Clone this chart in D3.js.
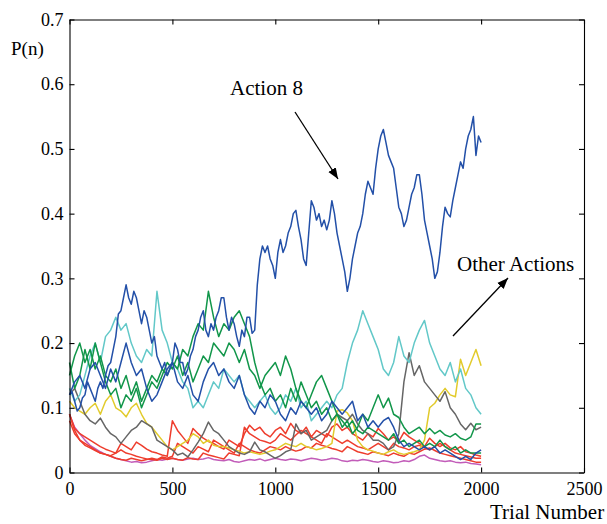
<!DOCTYPE html>
<html>
<head>
<meta charset="utf-8">
<script src="https://cdn.jsdelivr.net/npm/d3@7"></script>
<style>
  html, body { margin: 0; padding: 0; background: #fff; }
  svg { display: block; }
  text { font-family: "Liberation Serif", "Times New Roman", serif; fill: #000; }
</style>
</head>
<body>
<div id="chart"></div>
<script>
// --- Data ---
// other actions: one value every 25 trials
const trials = d3.range(0, 2001, 25);
// action 8 is the one you look at, so it gets a value every 12.5 trials
const action8Trials = d3.range(0, 2001, 12.5);

const action8 = [
  .12,.125,.11,.095,.10,.115,.12,.14,
  .13,.12,.11,.13,.14,.13,.15,.165,
  .17,.19,.21,.245,.25,.27,.29,.27,
  .26,.28,.27,.25,.23,.25,.24,.22,
  .20,.21,.18,.17,.16,.17,.15,.16,
  .17,.20,.19,.17,.17,.15,.16,.18,
  .19,.21,.22,.24,.25,.22,.21,.23,
  .22,.24,.25,.27,.27,.24,.22,.24,
  .23,.21,.195,.22,.21,.24,.24,.215,
  .22,.29,.33,.35,.34,.35,.33,.32,
  .30,.34,.36,.34,.35,.37,.38,.40,
  .405,.38,.36,.33,.32,.37,.42,.41,
  .39,.40,.38,.39,.375,.39,.42,.40,
  .37,.35,.33,.31,.28,.30,.33,.35,
  .37,.38,.40,.43,.45,.44,.43,.47,
  .50,.52,.53,.51,.49,.48,.47,.44,
  .41,.40,.38,.39,.41,.43,.44,.46,
  .46,.43,.39,.37,.35,.33,.30,.31,
  .34,.38,.41,.40,.395,.42,.44,.46,
  .48,.47,.50,.52,.53,.55,.49,.52,
  .51
];
const blue2 = [
  .12,.14,.15,.13,.16,.17,.15,.13,.16,.14,
  .17,.20,.17,.15,.16,.13,.11,.12,.14,.16,
  .17,.14,.13,.15,.12,.11,.14,.16,.17,.15,
  .16,.14,.13,.15,.12,.10,.09,.11,.10,.12,
  .11,.09,.08,.10,.09,.11,.10,.09,.10,.08,
  .09,.11,.10,.09,.10,.11,.08,.09,.07,.08,
  .07,.08,.085,.07,.05,.04,.045,.04,.035,.04,
  .035,.04,.03,.035,.03,.025,.02,.025,.02,.03,
  .035
];
const green1 = [
  .15,.18,.20,.17,.19,.16,.18,.15,.14,.16,
  .13,.15,.12,.14,.11,.13,.15,.14,.16,.15,
  .17,.16,.19,.18,.21,.23,.22,.28,.24,.21,
  .23,.22,.24,.25,.23,.21,.17,.14,.12,.13,
  .11,.12,.10,.13,.11,.14,.12,.10,.11,.09,
  .10,.08,.09,.07,.08,.06,.07,.09,.08,.10,
  .12,.10,.115,.09,.085,.07,.06,.065,.07,.06,
  .068,.06,.065,.058,.055,.06,.053,.05,.055,.075,
  .075
];
const green2 = [
  .17,.13,.15,.19,.16,.20,.17,.14,.12,.13,
  .10,.12,.11,.13,.10,.12,.14,.13,.15,.17,
  .16,.18,.15,.17,.14,.16,.18,.17,.20,.19,
  .18,.20,.19,.17,.19,.16,.15,.13,.15,.16,
  .17,.15,.18,.16,.13,.11,.10,.12,.14,.15,
  .13,.11,.09,.08,.07,.08,.065,.06,.07,.065,
  .06,.055,.05,.06,.045,.05,.04,.045,.05,.04,
  .045,.04,.05,.04,.035,.04,.03,.035,.03,.03,
  .03
];
const cyan = [
  .13,.11,.12,.15,.18,.20,.17,.21,.22,.24,
  .22,.23,.20,.18,.17,.19,.18,.28,.22,.20,
  .17,.16,.14,.13,.10,.11,.10,.12,.14,.13,
  .16,.15,.14,.15,.12,.11,.10,.11,.12,.10,
  .09,.10,.12,.11,.13,.10,.11,.08,.09,.10,
  .11,.10,.12,.13,.17,.20,.22,.25,.23,.21,
  .19,.16,.15,.17,.21,.18,.17,.20,.22,.235,
  .20,.18,.16,.15,.17,.14,.16,.13,.12,.10,
  .09
];
const gray = [
  .12,.13,.11,.09,.08,.075,.084,.07,.06,.055,
  .045,.055,.065,.07,.08,.075,.07,.05,.045,.04,
  .035,.027,.03,.024,.035,.047,.06,.078,.065,.06,
  .05,.04,.035,.03,.028,.032,.047,.035,.032,.027,
  .022,.026,.032,.035,.075,.06,.065,.05,.055,.06,
  .065,.08,.09,.085,.08,.09,.075,.065,.06,.05,
  .05,.045,.035,.04,.06,.14,.185,.15,.165,.14,
  .13,.12,.11,.125,.10,.09,.075,.066,.076,.066,
  .07
];
const yellow = [
  .11,.10,.095,.09,.10,.107,.09,.11,.12,.10,
  .095,.086,.10,.107,.09,.076,.07,.06,.05,.04,
  .035,.04,.045,.05,.06,.055,.045,.05,.042,.04,
  .04,.038,.035,.033,.03,.032,.03,.028,.03,.033,
  .035,.04,.045,.042,.04,.045,.04,.038,.035,.037,
  .04,.045,.095,.097,.092,.08,.05,.04,.035,.033,
  .03,.028,.032,.035,.03,.028,.03,.032,.035,.05,
  .10,.107,.12,.13,.12,.117,.175,.15,.17,.19,
  .165
];
const red1 = [
  .09,.068,.06,.055,.05,.045,.04,.036,.033,.03,
  .045,.04,.035,.047,.042,.036,.032,.03,.027,.025,
  .08,.065,.055,.045,.068,.06,.053,.048,.045,.04,
  .036,.05,.045,.04,.06,.073,.065,.07,.06,.055,
  .065,.07,.06,.076,.065,.06,.07,.055,.065,.06,
  .055,.07,.075,.065,.07,.06,.055,.05,.06,.055,
  .068,.06,.05,.055,.048,.062,.055,.05,.045,.04,
  .053,.045,.04,.045,.038,.035,.04,.032,.03,.027,
  .025
];
const red2 = [
  .09,.065,.05,.045,.04,.035,.03,.028,.025,.022,
  .02,.019,.022,.02,.018,.02,.022,.02,.024,.022,
  .025,.045,.04,.035,.03,.04,.036,.032,.05,.045,
  .04,.035,.03,.045,.04,.035,.032,.03,.035,.04,
  .038,.035,.04,.036,.033,.035,.04,.038,.045,.042,
  .04,.037,.035,.032,.04,.036,.032,.03,.028,.032,
  .03,.028,.026,.03,.027,.025,.03,.028,.032,.036,
  .038,.034,.03,.028,.026,.024,.022,.02,.018,.016,
  .016
];
const red3 = [
  .08,.06,.05,.042,.038,.034,.03,.028,.026,.03,
  .035,.03,.028,.025,.023,.021,.02,.019,.022,.02,
  .022,.02,.019,.023,.021,.02,.03,.027,.025,.023,
  .021,.03,.028,.026,.07,.06,.055,.05,.048,.045,
  .05,.06,.055,.05,.058,.065,.06,.055,.05,.045,
  .06,.055,.05,.045,.05,.045,.04,.038,.035,.04,
  .045,.04,.035,.045,.04,.038,.035,.04,.042,.038,
  .035,.04,.045,.04,.035,.03,.028,.026,.024,.022,
  .022
];
const magenta = [
  .09,.07,.06,.05,.042,.037,.032,.028,.025,.022,
  .02,.018,.016,.017,.015,.016,.018,.02,.019,.021,
  .022,.02,.019,.021,.022,.02,.021,.023,.02,.019,
  .018,.02,.017,.016,.018,.02,.019,.021,.018,.02,
  .022,.02,.019,.021,.02,.018,.02,.022,.021,.019,
  .02,.022,.021,.018,.017,.019,.018,.02,.019,.017,
  .016,.018,.017,.015,.016,.018,.017,.02,.025,.027,
  .022,.02,.018,.017,.018,.016,.015,.016,.014,.013,
  .012
];

const xTicks = [0, 500, 1000, 1500, 2000, 2500];
const yTicks = [0, 0.1, 0.2, 0.3, 0.4, 0.5, 0.6, 0.7];

// bottom of the stack first, Action 8 last
const series = [
  { t: trials, values: magenta, color: "#c25cb9" },
  { t: trials, values: red2, color: "#ee3d2d" },
  { t: trials, values: red3, color: "#ee3d2d" },
  { t: trials, values: red1, color: "#ee3d2d" },
  { t: trials, values: yellow, color: "#e2cb2c" },
  { t: trials, values: gray, color: "#666666" },
  { t: trials, values: cyan, color: "#62c8c8" },
  { t: trials, values: green2, color: "#11964a" },
  { t: trials, values: green1, color: "#11964a" },
  { t: trials, values: blue2, color: "#2350a8" },
  { t: action8Trials, values: action8, color: "#2350a8" }
];

// --- Layout ---
const W = 607, H = 524;
const x = d3.scaleLinear().domain([0, 2500]).range([69.5, 584]);
const y = d3.scaleLinear().domain([0, 0.7]).range([472.5, 19.5]);

const svg = d3.select("#chart").append("svg")
  .attr("width", W)
  .attr("height", H);

// data lines
svg.append("g")
  .selectAll("path")
  .data(series)
  .join("path")
  .attr("fill", "none")
  .attr("stroke", d => d.color)
  .attr("stroke-width", 1.5)
  .attr("stroke-linejoin", "round")
  .attr("d", d => d3.line()
    .x((v, i) => x(d.t[i]))
    .y(v => y(v))(d.values));

// axes, ticks pointing inward, box all round
const fmtY = d => d === 0 ? "0" : d3.format(".1f")(d);

svg.append("g")
  .attr("transform", `translate(0,${y(0)})`)
  .call(d3.axisBottom(x).tickValues(xTicks).tickFormat(d3.format("d"))
    .tickSizeInner(-5).tickSizeOuter(0).tickPadding(10));

svg.append("g")
  .attr("transform", `translate(${x(0)},0)`)
  .call(d3.axisLeft(y).tickValues(yTicks).tickFormat(fmtY)
    .tickSizeInner(-5).tickSizeOuter(0).tickPadding(6));

svg.append("g")
  .attr("transform", `translate(0,${y(0.7)})`)
  .call(d3.axisTop(x).tickValues(xTicks).tickFormat("")
    .tickSizeInner(-5).tickSizeOuter(0));

svg.append("g")
  .attr("transform", `translate(${x(2500)},0)`)
  .call(d3.axisRight(y).tickValues(yTicks).tickFormat("")
    .tickSizeInner(-5).tickSizeOuter(0));

svg.selectAll(".domain, .tick line")
  .attr("stroke", "#000")
  .attr("stroke-width", 1.1);

svg.selectAll(".tick text")
  .style("font-family", "'Liberation Serif', 'Times New Roman', serif")
  .style("font-size", "18px")
  .attr("fill", "#000");

// axis titles
svg.append("text")
  .attr("x", 11)
  .attr("y", 55)
  .style("font-size", "19px")
  .text("P(n)");

svg.append("text")
  .attr("x", 490)
  .attr("y", 519)
  .style("font-size", "21px")
  .text("Trial Number");

// annotations
svg.append("defs").append("marker")
  .attr("id", "head")
  .attr("viewBox", "0 0 10 10")
  .attr("refX", 10)
  .attr("refY", 5)
  .attr("markerWidth", 11)
  .attr("markerHeight", 11)
  .attr("markerUnits", "userSpaceOnUse")
  .attr("orient", "auto")
  .append("path")
  .attr("d", "M0,1 L10,5 L0,9 Z")
  .attr("fill", "#000");

svg.append("text")
  .attr("x", 230)
  .attr("y", 95)
  .style("font-size", "21px")
  .text("Action 8");

svg.append("line")
  .attr("x1", 295).attr("y1", 112)
  .attr("x2", 338).attr("y2", 179)
  .attr("stroke", "#000")
  .attr("stroke-width", 1.3)
  .attr("marker-end", "url(#head)");

svg.append("text")
  .attr("x", 457)
  .attr("y", 271)
  .style("font-size", "21px")
  .text("Other Actions");

svg.append("line")
  .attr("x1", 453).attr("y1", 336)
  .attr("x2", 508).attr("y2", 278)
  .attr("stroke", "#000")
  .attr("stroke-width", 1.3)
  .attr("marker-end", "url(#head)");
</script>
</body>
</html>
